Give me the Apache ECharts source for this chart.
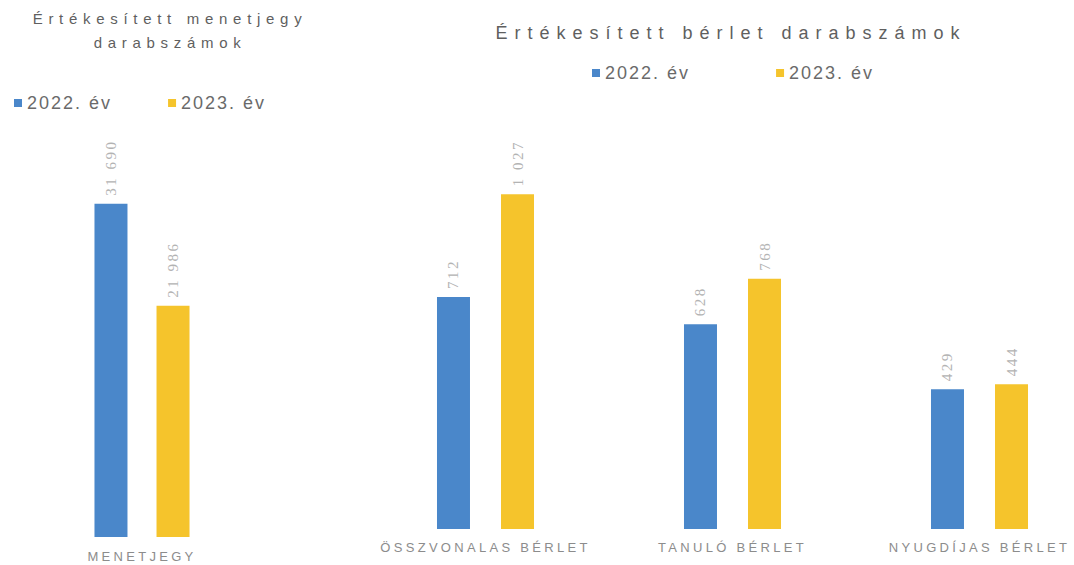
<!DOCTYPE html>
<html>
<head>
<meta charset="utf-8">
<script src="https://cdn.jsdelivr.net/npm/echarts@6/dist/echarts.min.js"></script>
<style>
html,body{margin:0;padding:0;background:#fff;}
#chart{width:1074px;height:565px;}
</style>
</head>
<body>
<div id="chart"></div>
<script>
// ---- data ----
const seriesNames = ['2022. év', '2023. év'];
const ticketCategories = ['MENETJEGY'];
const ticket2022 = [31690];
const ticket2023 = [21986];
const passCategories = ['ÖSSZVONALAS BÉRLET', 'TANULÓ BÉRLET', 'NYUGDÍJAS BÉRLET'];
const pass2022 = [712, 628, 429];
const pass2023 = [1027, 768, 444];
const leftTitle = 'Értékesített menetjegy\ndarabszámok';
const rightTitle = 'Értékesített bérlet darabszámok';

const BLUE = '#4a87ca';
const YELLOW = '#f5c42c';

function fmt(v){ return String(v).replace(/\B(?=(\d{3})+(?!\d))/g, ' '); }

const labelCfg = {
  show: true, position: 'top', rotate: 90, align: 'left', verticalAlign: 'middle',
  distance: 8, color: '#b3b3b3', fontFamily: 'Liberation Serif', fontSize: 15,
  formatter: p => fmt(p.value)
};

const chart = echarts.init(document.getElementById('chart'), null, {renderer: 'svg'});
chart.setOption({
  animation: false,
  backgroundColor: '#fff',
  graphic: [
    {type: 'text', x: 170, y: 6, style: {text: leftTitle, align: 'center', verticalAlign: 'top',
      fontFamily: 'Liberation Sans', fontSize: 15, lineHeight: 24, fill: '#5f5f5f'}},
    {type: 'text', x: 731, y: 33, style: {text: rightTitle, align: 'center', verticalAlign: 'middle',
      fontFamily: 'Liberation Sans', fontSize: 18, fill: '#5f5f5f'}}
  ],
  legend: [
    {data: seriesNames, left: 14, top: 94, padding: 0, icon: 'rect', itemWidth: 8, itemHeight: 8, itemGap: 72,
      textStyle: {fontFamily: 'Liberation Sans', fontSize: 18, color: '#6a6a6a'}},
    {data: seriesNames, left: 592, top: 64, padding: 0, icon: 'rect', itemWidth: 8, itemHeight: 8, itemGap: 102,
      textStyle: {fontFamily: 'Liberation Sans', fontSize: 18, color: '#6a6a6a'}}
  ],
  grid: [
    {left: 60, width: 164, top: 150, bottom: 28, outerBoundsMode: 'none', containLabel: false},
    {left: 362, width: 741, top: 150, bottom: 36, outerBoundsMode: 'none', containLabel: false}
  ],
  xAxis: [
    {type: 'category', gridIndex: 0, data: ticketCategories, axisLine: {show: false}, axisTick: {show: false},
      axisLabel: {color: '#8c8c8c', fontFamily: 'Liberation Sans', fontSize: 13, margin: 13}},
    {type: 'category', gridIndex: 1, data: passCategories, axisLine: {show: false}, axisTick: {show: false},
      axisLabel: {color: '#8c8c8c', fontFamily: 'Liberation Sans', fontSize: 13, margin: 12}}
  ],
  yAxis: [
    {type: 'value', gridIndex: 0, min: 0, max: 36800, show: false, splitLine: {show: false}},
    {type: 'value', gridIndex: 1, min: 0, max: 1163, show: false, splitLine: {show: false}}
  ],
  series: [
    {name: seriesNames[0], type: 'bar', xAxisIndex: 0, yAxisIndex: 0, data: ticket2022, barWidth: 33, barGap: '88%',
      itemStyle: {color: BLUE}, label: labelCfg},
    {name: seriesNames[1], type: 'bar', xAxisIndex: 0, yAxisIndex: 0, data: ticket2023, barWidth: 33, barGap: '88%',
      itemStyle: {color: YELLOW}, label: labelCfg},
    {name: seriesNames[0], type: 'bar', xAxisIndex: 1, yAxisIndex: 1, data: pass2022, barWidth: 33, barGap: '94%',
      itemStyle: {color: BLUE}, label: labelCfg},
    {name: seriesNames[1], type: 'bar', xAxisIndex: 1, yAxisIndex: 1, data: pass2023, barWidth: 33, barGap: '94%',
      itemStyle: {color: YELLOW}, label: labelCfg}
  ]
});

function applySpacing(){
  document.querySelectorAll('#chart text').forEach(t => {
    const s = t.textContent || '';
    let ls;
    if (/^[\d\s]+$/.test(s)) ls = 2.5;
    else if (s.indexOf('év') >= 0) ls = 2;
    else if (s === s.toUpperCase()) ls = 3.3;
    else if (s.indexOf('bérlet') >= 0) ls = 7;
    else ls = 5.7;
    if (t.style.letterSpacing !== ls + 'px') t.style.letterSpacing = ls + 'px';
  });
}
applySpacing();
chart.on('finished', applySpacing);
const mo = new MutationObserver(applySpacing);
mo.observe(document.getElementById('chart'), {childList: true, subtree: true});
setTimeout(applySpacing, 50);
setTimeout(applySpacing, 300);
</script>
</body>
</html>
